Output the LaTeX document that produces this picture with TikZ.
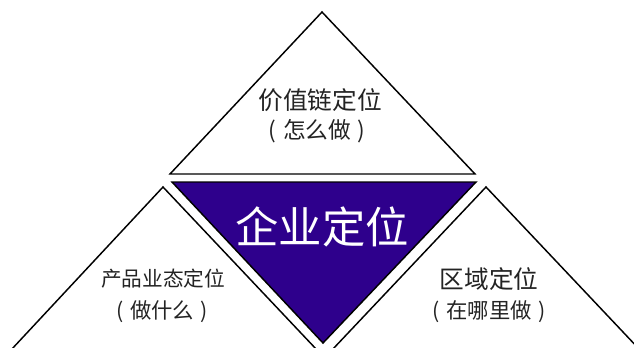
\documentclass[tikz,border=0pt]{standalone}
\usepackage{fontspec}
\newfontfamily\cjk{Noto Sans CJK SC}
\definecolor{corepurple}{RGB}{46,0,140}
\definecolor{textgray}{RGB}{35,35,35}
\tikzset{
  edge/.style={line width=1.1pt, line join=miter},
  label/.style={text=textgray, inner sep=0pt, font=\cjk},
}
\begin{document}
\begin{tikzpicture}[x=0.75pt,y=-0.75pt]
		    \useasboundingbox (0,0) rectangle (634,347);
		    \clip (0,0) rectangle (634,347);
		    % top triangle
		    \draw[edge](170,174)--(322,12)--(475,174)--cycle;
		    % centre, upside down
		    \filldraw[edge, fill=corepurple](172,182)--(476,182)--(323,343)--cycle;
		    % lower left and lower right
		    \draw[edge](11,350)--(163,187)--(317,350);
		    \draw[edge](332,350)--(486,187)--(640,350);
		    \node[label, font=\cjk\fontsize{18.5pt}{20pt}\selectfont] (chain) at (320,100) {价值链定位};
		    \node[label, font=\cjk\fontsize{17pt}{20pt}\selectfont] (chainq) at (317,131) {(\hspace{0.3em}怎么做\hspace{0.3em})};
		    \node[label, text=white, font=\cjk\fontsize{32.5pt}{34pt}\selectfont] (core) at (322,227) {企业定位};
		    \node[label, font=\cjk\fontsize{15.5pt}{18pt}\selectfont] (product) at (163,279) {产品业态定位};
		    \node[label, font=\cjk\fontsize{16pt}{18pt}\selectfont] (productq) at (162,312) {(\hspace{0.3em}做什么\hspace{0.3em})};
		    \node[label, font=\cjk\fontsize{18.5pt}{20pt}\selectfont] (region) at (489,279) {区域定位};
		    \node[label, font=\cjk\fontsize{16pt}{18pt}\selectfont] (regionq) at (489,312) {(\hspace{0.3em}在哪里做\hspace{0.3em})};
		\end{tikzpicture}
\end{document}
